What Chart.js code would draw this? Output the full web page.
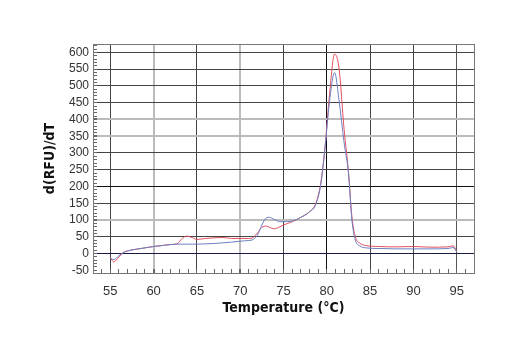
<!DOCTYPE html>
<html lang="en">
<head>
  <meta charset="UTF-8">
  <title>Melt curve</title>
  <script src="https://cdn.jsdelivr.net/npm/chart.js"></script>
  <style>
    body { margin: 0; background: #fff; }
  </style>
</head>
<body>
  <canvas id="meltChart" width="520" height="350"></canvas>
  <script>
    // temperature (°C) and d(RFU)/dT for the two traces
    const temps = [55.0, 55.4, 56, 56.5, 57, 58, 59, 60, 61, 62, 62.7, 63.3, 63.8, 64.5, 65, 66, 67, 68, 69, 70,
      71, 71.5, 72, 72.5, 73, 73.4, 73.9, 74.6, 75, 76, 77, 78, 78.7, 79.3, 79.8, 80.3, 80.9, 81.4, 82, 82.5,
      82.9, 83.3, 83.8, 84.5, 86, 88, 90, 92, 94, 94.6, 95];
    const redValues = [-12, -25, -10, 3, 8, 13, 17, 21, 24, 27, 29, 45, 52, 47, 42, 45, 47, 48, 45, 45,
      45, 48, 62, 78, 82, 78, 74, 80, 85, 95, 108, 125, 148, 210, 320, 470, 595, 555, 370, 245,
      110, 50, 31, 24, 21, 20, 21, 19, 20, 23, 6];
    const blueValues = [-15, -18, -6, 3, 8, 13, 17, 21, 24, 27, 28, 28, 28, 28, 28, 29, 30, 32, 34, 37,
      39, 42, 55, 85, 106, 108, 102, 95, 95, 97, 108, 124, 145, 205, 315, 450, 540, 460, 330, 240,
      100, 40, 23, 17, 15, 14, 14, 14, 15, 18, 5];

    const xGrid = { 55: '#444', 60: '#bbb', 65: '#444', 70: '#bbb', 75: '#444', 80: '#111', 85: '#444', 90: '#444', 95: '#555' };
    const yGrid = { 600: '#444', 550: '#444', 500: '#444', 450: '#444', 400: '#bbb', 350: '#bbb', 300: '#444',
      250: '#444', 200: '#111', 150: '#444', 100: '#bbb', 50: '#444', 0: '#1a1a44' };
    const thick = c => (c === '#bbb' ? 2 : 1);

    const frame = {
      id: 'frame',
      afterDraw(chart) {
        const { ctx, chartArea: a } = chart;
        ctx.save();
        ctx.strokeStyle = '#777';
        ctx.lineWidth = 1;
        ctx.strokeRect(a.left + 0.5, a.top + 0.5, a.right - a.left, a.bottom - a.top);
        ctx.restore();
      }
    };

    const titleFont = "'DejaVu Sans Condensed', 'Liberation Sans', sans-serif";
    const tickFont = "'Liberation Sans', Arial, sans-serif";

    new Chart(document.getElementById('meltChart'), {
      type: 'line',
      data: {
        datasets: [
          {
            data: temps.map((t, i) => ({ x: t, y: blueValues[i] })),
            borderColor: '#6b80c4',
            borderWidth: 1,
            pointRadius: 0,
            cubicInterpolationMode: 'monotone'
          },
          {
            data: temps.map((t, i) => ({ x: t, y: redValues[i] })),
            borderColor: '#e2505e',
            borderWidth: 1,
            pointRadius: 0,
            cubicInterpolationMode: 'monotone'
          }
        ]
      },
      options: {
        responsive: false,
        animation: false,
        layout: { padding: { top: 44, right: 46, left: 0, bottom: 18 } },
        plugins: { legend: { display: false }, tooltip: { enabled: false } },
        scales: {
          x: {
            type: 'linear',
            min: 53,
            max: 97,
            afterFit: s => { s.height = 59; },
            border: { display: true, color: '#555' },
            grid: {
              color: c => xGrid[c.tick.value] || 'rgba(0,0,0,0)',
              lineWidth: c => thick(xGrid[c.tick.value]),
              tickColor: '#666',
              tickLength: -4
            },
            ticks: {
              stepSize: 1,
              autoSkip: false,
              maxRotation: 0,
              padding: 15,
              color: '#333',
              font: { family: tickFont, size: 13 },
              callback: v => (v % 5 === 0 ? v : '')
            },
            title: {
              display: true,
              text: 'Temperature (°C)',
              color: '#111',
              padding: { top: 0, bottom: 15 },
              font: { family: titleFont, size: 14, weight: 'bold' }
            }
          },
          y: {
            min: -58,
            max: 625,
            afterFit: s => { s.width = 93; },
            afterBuildTicks: s => {
              const list = [];
              for (let v = -50; v <= 620; v += 10) list.push({ value: v });
              s.ticks = list;
            },
            border: { display: true, color: '#555' },
            grid: {
              color: c => yGrid[c.tick.value] || 'rgba(0,0,0,0)',
              lineWidth: c => thick(yGrid[c.tick.value]),
              tickColor: '#666',
              tickLength: -4
            },
            ticks: {
              autoSkip: false,
              padding: 8,
              color: '#333',
              font: { family: tickFont, size: 12 },
              callback: v => (v % 50 === 0 ? v : '')
            },
            title: {
              display: true,
              text: 'd(RFU)/dT',
              color: '#111',
              padding: { top: 42, bottom: 0 },
              font: { family: titleFont, size: 14, weight: 'bold' }
            }
          }
        }
      },
      plugins: [frame]
    });
  </script>
</body>
</html>
